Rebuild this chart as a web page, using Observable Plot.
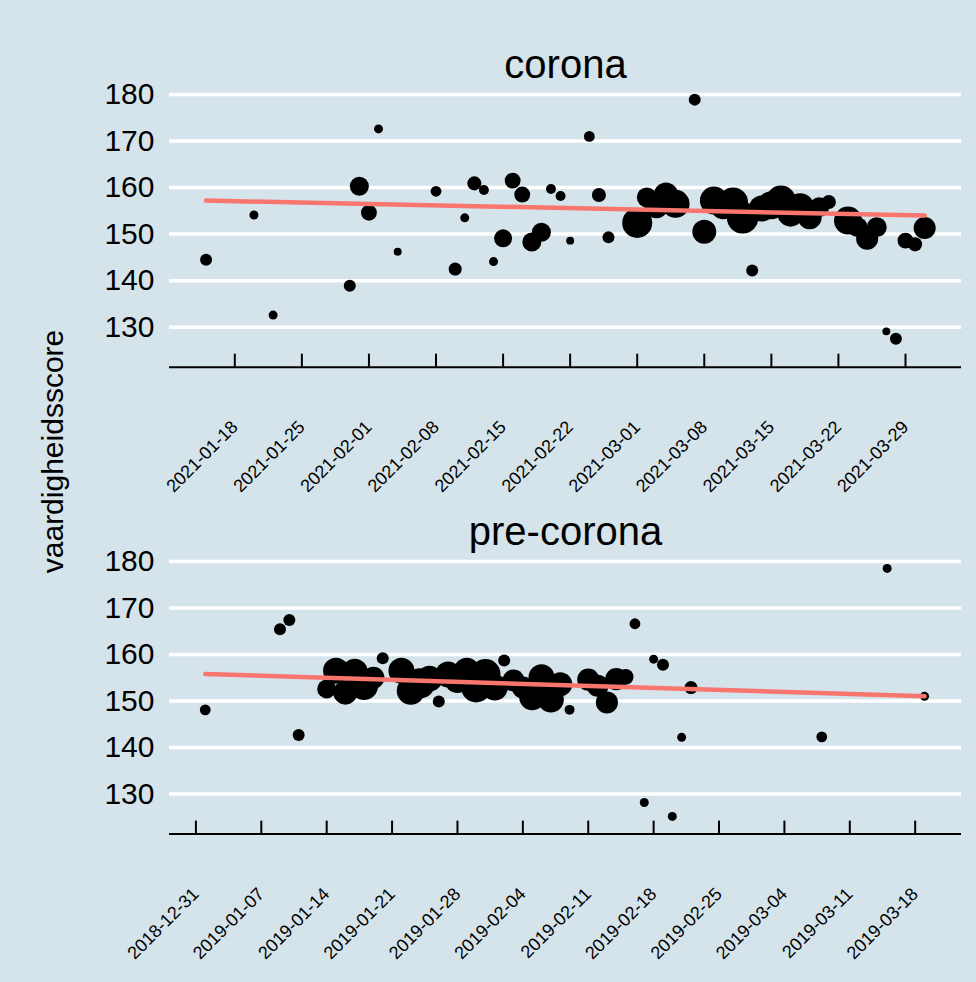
<!DOCTYPE html>
<html>
<head>
<meta charset="utf-8">
<script src="https://cdn.jsdelivr.net/npm/d3@7"></script>
<script src="https://cdn.jsdelivr.net/npm/@observablehq/plot@0.6"></script>
<style>
  html, body { margin: 0; padding: 0; background: #d5e4eb; }
  #wrap { position: relative; width: 976px; height: 982px; background: #d5e4eb; overflow: hidden;
          font-family: "Liberation Sans", Arial, sans-serif; }
  #top { position: absolute; left: 0; top: 0; }
  #bottom { position: absolute; left: 0; top: 500px; }
  #ytitle { position: absolute; left: 0; top: 0; }
</style>
</head>
<body>
<div id="wrap">
  <div id="top"></div>
  <div id="bottom"></div>
  <svg id="ytitle" width="90" height="982">
    <text transform="translate(63,451.5) rotate(-90)" text-anchor="middle"
          font-family="Liberation Sans, Arial, sans-serif" font-size="30" fill="black">vaardigheidsscore</text>
  </svg>
</div>
<script>
// ---------- data: corona panel ----------
const coronaDates = ["2021-01-15","2021-01-20","2021-01-22","2021-01-30","2021-01-31","2021-02-01","2021-02-02","2021-02-04","2021-02-08","2021-02-10",
  "2021-02-11","2021-02-12","2021-02-13","2021-02-14","2021-02-15","2021-02-16","2021-02-17","2021-02-18","2021-02-19","2021-02-20",
  "2021-02-21","2021-02-22","2021-02-24","2021-02-25","2021-02-26","2021-03-01","2021-03-02","2021-03-03","2021-03-04","2021-03-05",
  "2021-03-07","2021-03-08","2021-03-09","2021-03-10","2021-03-11","2021-03-12","2021-03-13","2021-03-14","2021-03-15","2021-03-16",
  "2021-03-17","2021-03-18","2021-03-19","2021-03-20","2021-03-21","2021-03-23","2021-03-24","2021-03-25","2021-03-26","2021-03-27",
  "2021-03-28","2021-03-29","2021-03-30","2021-03-31"];
const coronaScores = [144.5,154.1,132.6,138.9,160.3,154.6,172.6,146.2,159.2,142.5,
  153.5,160.9,159.5,144.1,149.1,161.5,158.5,148.3,150.4,159.7,
  158.2,148.6,171.0,158.4,149.3,152.4,157.9,156.0,158.5,156.5,
  178.9,150.5,157.2,156.0,156.8,153.5,142.2,155.5,156.2,157.2,
  154.4,155.8,153.6,155.8,156.9,152.9,151.5,149.0,151.5,129.1,
  127.5,148.6,147.8,151.3];
const coronaN = [16,9,9,16,40,28,9,7,13,19,
  9,22,11,9,36,28,28,40,40,11,
  11,7,13,22,16,100,44,64,64,87,
  16,64,87,75,100,110,16,75,87,100,
  75,87,64,44,22,87,44,54,44,7,
  16,28,22,54];
const coronaTrendDates = ["2021-01-15","2021-03-31"];
const coronaTrendScores = [157.2,154.0];
const coronaTickLabels = ["2021-01-18","2021-01-25","2021-02-01","2021-02-08","2021-02-15","2021-02-22",
  "2021-03-01","2021-03-08","2021-03-15","2021-03-22","2021-03-29"];

// ---------- data: pre-corona panel ----------
const preDates = ["2019-01-01","2019-01-09","2019-01-10","2019-01-11","2019-01-14","2019-01-15","2019-01-16","2019-01-17","2019-01-18","2019-01-19",
  "2019-01-20","2019-01-22","2019-01-23","2019-01-24","2019-01-25","2019-01-26","2019-01-27","2019-01-28","2019-01-29","2019-01-30",
  "2019-01-31","2019-02-01","2019-02-02","2019-02-03","2019-02-04","2019-02-05","2019-02-06","2019-02-07","2019-02-08","2019-02-09",
  "2019-02-11","2019-02-12","2019-02-13","2019-02-14","2019-02-15","2019-02-16","2019-02-17","2019-02-18","2019-02-19","2019-02-20",
  "2019-02-21","2019-02-22","2019-03-08","2019-03-15","2019-03-19"];
const preScores = [148.1,165.4,167.4,142.7,152.6,156.5,151.8,156.3,153.2,155.0,
  159.2,156.5,152.2,153.8,154.8,149.9,155.7,154.5,156.5,152.9,
  155.8,152.9,158.7,154.4,152.9,150.8,155.1,150.3,153.6,148.1,
  154.6,153.3,149.7,154.7,155.2,166.6,128.2,159.0,157.8,125.2,
  142.2,152.9,142.3,178.5,151.0];
const preN = [13,16,16,16,40,75,64,75,87,54,
  16,75,87,100,75,16,75,75,75,100,
  100,75,16,54,54,75,75,75,64,11,
  54,54,54,54,28,13,9,9,16,9,
  9,19,13,9,9];
const preTrendDates = ["2019-01-01","2019-03-19"];
const preTrendScores = [155.8,151.0];
const preTickLabels = ["2018-12-31","2019-01-07","2019-01-14","2019-01-21","2019-01-28","2019-02-04",
  "2019-02-11","2019-02-18","2019-02-25","2019-03-04","2019-03-11","2019-03-18"];

// ---------- shared ----------
const yTicks = [130,140,150,160,170,180];
const panelTitles = ["corona","pre-corona"];
const yDomain = [121.4, 182];

const parse = d3.utcParse("%Y-%m-%d");
const FONT = "Liberation Sans, Arial, sans-serif";

function panel({title, dates, scores, n, trendDates, trendScores, tickLabels, xDomain, height, marginTop, marginBottom}) {
  const data = dates.map((d, i) => ({date: parse(d), score: scores[i], n: n[i]}));
  const trend = trendDates.map((d, i) => ({date: parse(d), score: trendScores[i]}));
  const ticks = tickLabels.map(parse);
  const frameH = height - marginTop - marginBottom;
  return Plot.plot({
    width: 976,
    height,
    marginLeft: 169,
    marginRight: 15,
    marginTop,
    marginBottom,
    style: {background: "transparent", overflow: "visible", fontFamily: FONT, color: "black"},
    x: {type: "utc", domain: xDomain.map(d => new Date(d)), axis: null},
    y: {domain: yDomain, axis: null},
    r: {type: "sqrt", domain: [0, 100], range: [0, 15]},
    marks: [
      Plot.ruleY(yTicks, {stroke: "white", strokeWidth: 3.5}),
      Plot.text(yTicks, {y: d => d, text: d => String(d), frameAnchor: "left", textAnchor: "end",
        dx: -15, fontSize: 30, fill: "black"}),
      Plot.ruleY([yDomain[0]], {stroke: "black", strokeWidth: 2}),
      Plot.tickX(ticks, {x: d => d, stroke: "black", strokeWidth: 2, insetTop: frameH - 13}),
      Plot.text(ticks, {x: d => d, text: (d, i) => tickLabels[i], frameAnchor: "bottom", rotate: -45,
        textAnchor: "end", lineAnchor: "bottom", dx: 4, dy: 61, fontSize: 18, fill: "black"}),
      Plot.dot(data, {x: "date", y: "score", r: "n", fill: "black"}),
      Plot.line(trend, {x: "date", y: "score", stroke: "#F8766D", strokeWidth: 4.5}),
      Plot.text([title], {text: d => d, frameAnchor: "top", lineAnchor: "bottom", dy: -7.5,
        fontSize: 40, fill: "black"})
    ]
  });
}

document.getElementById("top").append(panel({
  title: panelTitles[0],
  dates: coronaDates, scores: coronaScores, n: coronaN,
  trendDates: coronaTrendDates, trendScores: coronaTrendScores,
  tickLabels: coronaTickLabels,
  xDomain: ["2021-01-11T04:25Z", "2021-04-03T20:17Z"],
  height: 500, marginTop: 84.7, marginBottom: 133.3
}));

document.getElementById("bottom").append(panel({
  title: panelTitles[1],
  dates: preDates, scores: preScores, n: preN,
  trendDates: preTrendDates, trendScores: preTrendScores,
  tickLabels: preTickLabels,
  xDomain: ["2018-12-28T04:09Z", "2019-03-22T23:00Z"],
  height: 482, marginTop: 51.6, marginBottom: 148.4
}));
</script>
</body>
</html>
